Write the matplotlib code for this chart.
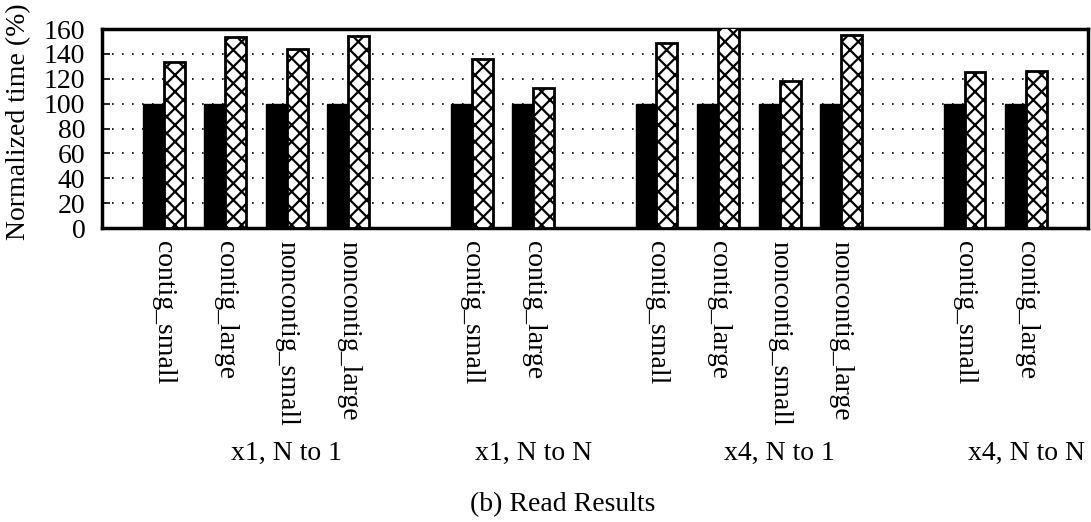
import numpy as np
import matplotlib
matplotlib.use("Agg")
import matplotlib.pyplot as plt
from matplotlib.transforms import blended_transform_factory

# ======================================================
# DATA
# ======================================================

groups = ["x1, N to 1", "x1, N to N", "x4, N to 1", "x4, N to N"]
group_cases = [
    ["contig_small", "contig_large", "noncontig_small", "noncontig_large"],
    ["contig_small", "contig_large"],
    ["contig_small", "contig_large", "noncontig_small", "noncontig_large"],
    ["contig_small", "contig_large"],
]
baseline = [
    [100, 100, 100, 100],
    [100, 100],
    [100, 100, 100, 100],
    [100, 100],
]
compared = [
    [133.5, 153.3, 143.6, 154.4],
    [135.6, 112.6],
    [148.7, 163.0, 118.0, 155.4],
    [125.7, 126.5],
]
yticks = [0, 20, 40, 60, 80, 100, 120, 140, 160]
caption = "(b) Read Results"

# ======================================================
# PLOT
# ======================================================

plt.rcParams["font.family"] = ["Liberation Serif", "DejaVu Serif"]
plt.rcParams["hatch.linewidth"] = 1.6

fig = plt.figure(figsize=(10.91, 5.22), dpi=100)
ax = fig.add_axes([0.0935, 0.5632, 0.9035, 0.3812])

width = 0.34
pos = 0
xs, labels, centers = [], [], []
for g, cases in enumerate(group_cases):
    gx = np.arange(len(cases)) + pos
    ax.bar(gx - width / 2, baseline[g], width, color="black",
           edgecolor="black", linewidth=1.0, zorder=3)
    ax.bar(gx + width / 2, compared[g], width, color="white",
           edgecolor="black", hatch="xx", linewidth=2.0, zorder=3)
    xs.extend(gx)
    labels.extend(cases)
    centers.append(gx.mean() + 0.5)
    pos += len(cases) + 1

ax.set_xlim(-1.0, 15.0)
ax.set_ylim(0, 160)
ax.set_yticks(yticks)
ax.set_yticklabels([str(t) for t in yticks], fontsize=20)
ax.set_xticks(xs)
ax.set_xticklabels(labels, rotation=270, fontsize=20, va="top", ha="center")
ax.tick_params(axis="x", length=0, pad=9)
ax.tick_params(axis="y", direction="in", length=6, width=1.2, pad=12)

for t in yticks[1:-1]:
    ax.axhline(t, color="black", linestyle=(0, (1, 5)), linewidth=1.2, zorder=1)

for s in ax.spines.values():
    s.set_linewidth(2.5)

trans = blended_transform_factory(ax.transData, fig.transFigure)
for c, name in zip(centers, groups):
    ax.text(c, 0.132, name, transform=trans, fontsize=20,
            ha="center", va="center")

fig.text(0.017, 0.766, "Normalized time (%)", rotation=90, fontsize=20,
         ha="center", va="center")
fig.text(0.516, 0.033, caption, fontsize=20, ha="center", va="center")

fig.savefig("out.png", dpi=100)
